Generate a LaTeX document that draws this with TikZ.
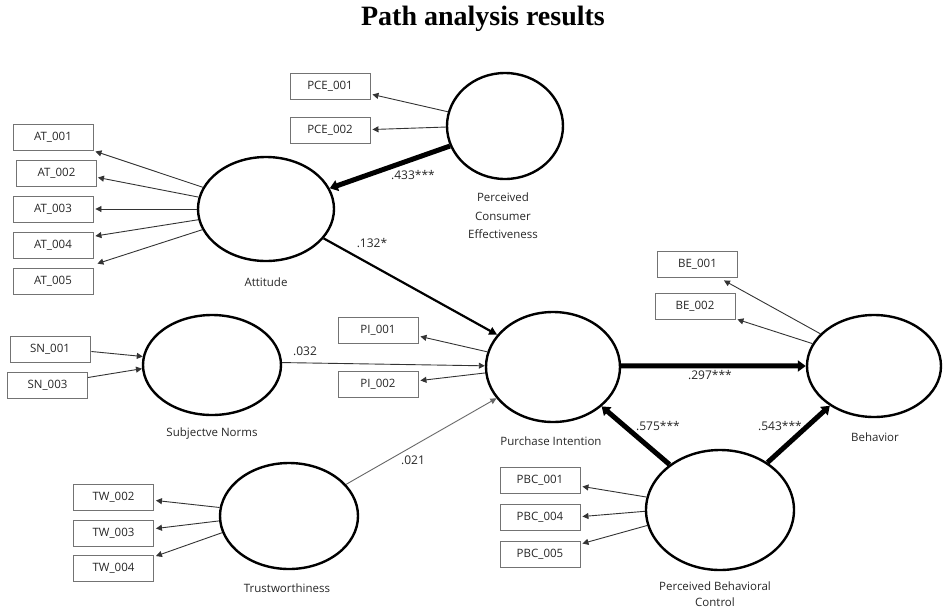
\documentclass[tikz,border=0pt]{standalone}
\usepackage{fontspec}
\setmainfont{Open Sans}
\newfontfamily\titlefont{Liberation Serif}
\usetikzlibrary{arrows.meta,shapes.geometric,calc}
\begin{document}
\begin{tikzpicture}[x=1pt,y=-1pt,
 lat/.style={ellipse, draw, line width=2.4pt, inner sep=0pt},
 ind/.style={draw=black!55, line width=0.9pt, minimum width=80pt, minimum height=26pt, inner sep=0pt, font=\fontsize{11.5}{13}\selectfont, text=black!85},
 lab/.style={font=\fontsize{11.5}{18.5}\selectfont, text=black!85, align=center},
 indarr/.style={-{Triangle[length=6pt,width=6pt]}, line width=0.9pt, draw=black!80},
 strongarr/.style={-{Triangle[length=8pt,width=11pt]}, line width=5pt},
 medarr/.style={-{Triangle[length=8pt,width=8pt]}, line width=2.2pt},
 coef/.style={font=\fontsize{12}{13}\selectfont, text=black!85}
]
\useasboundingbox (0,0) rectangle (943,611);
\node[font=\titlefont\bfseries\fontsize{28}{32}\selectfont] (title) at (483,19) {Path analysis results};

% latent variables
\node[lat, minimum width=116pt, minimum height=106pt] (pce) at (505,126) {};
\node[lat, minimum width=136pt, minimum height=104pt] (at) at (266,209) {};
\node[lat, minimum width=138pt, minimum height=100pt] (sn) at (212,365) {};
\node[lat, minimum width=134pt, minimum height=110pt] (pi) at (553,367) {};
\node[lat, minimum width=138pt, minimum height=106pt] (tw) at (289,516) {};
\node[lat, minimum width=134pt, minimum height=102pt] (be) at (874,366) {};
\node[lat, minimum width=148pt, minimum height=120pt] (pbc) at (720,510) {};

% latent labels
\node[lab] (pcel) at (503,216) {Perceived\\Consumer\\Effectiveness};
\node[lab] (atl) at (266,282) {Attitude};
\node[lab] (snl) at (212,434) {Subjectve Norms};
\node[lab] (pil) at (551,441) {Purchase Intention};
\node[lab] (twl) at (287,588) {Trustworthiness};
\node[lab] (bel) at (875,437) {Behavior};
\node[lab, font=\fontsize{11.5}{16.5}\selectfont] (pbcl) at (715,594) {Perceived Behavioral\\Control};

% indicators
\node[ind] (pce1) at (330,86.5) {PCE\_001};
\node[ind] (pce2) at (330,130.5) {PCE\_002};
\node[ind] (at1) at (53,137) {AT\_001};
\node[ind] (at2) at (56.5,173.5) {AT\_002};
\node[ind] (at3) at (53,209) {AT\_003};
\node[ind] (at4) at (53,245) {AT\_004};
\node[ind] (at5) at (53,281) {AT\_005};
\node[ind] (sn1) at (50,349.5) {SN\_001};
\node[ind] (sn3) at (47.5,385.5) {SN\_003};
\node[ind] (pi1) at (378,330.5) {PI\_001};
\node[ind] (pi2) at (378,384.5) {PI\_002};
\node[ind] (tw2) at (113.5,497.5) {TW\_002};
\node[ind] (tw3) at (113.5,533.5) {TW\_003};
\node[ind] (tw4) at (113.5,568.5) {TW\_004};
\node[ind] (be1) at (697.5,264) {BE\_001};
\node[ind] (be2) at (695,306) {BE\_002};
\node[ind] (pbc1) at (540,480.5) {PBC\_001};
\node[ind] (pbc4) at (540,517.5) {PBC\_004};
\node[ind] (pbc5) at (540,554.5) {PBC\_005};

% indicator arrows
\draw[indarr] (pce.166) -- ($(pce1.east)+(2,8)$);
\draw[indarr] (pce.181) -- ($(pce2.east)+(2,-1)$);
\draw[indarr] (at.161) -- ($(at1.south east)+(2,1)$);
\draw[indarr] (at.170) -- ($(at2.east)+(1,4)$);
\draw[indarr] (at.180) -- ($(at3.east)+(2,0)$);
\draw[indarr] (at.189) -- ($(at4.east)+(2,-9)$);
\draw[indarr] (at.198) -- ($(at5.north east)+(4,-4)$);
\draw[indarr] ($(sn1.east)+(1,2)$) -- (sn.173);
\draw[indarr] ($(sn3.east)+(0,-8)$) -- (sn.183);
\draw[indarr] (pi.167) -- ($(pi1.east)+(2,6)$);
\draw[indarr] (pi.185) -- ($(pi2.east)+(2,-4)$);
\draw[indarr] (tw.173) -- ($(tw2.east)+(2,3)$);
\draw[indarr] (tw.184) -- ($(tw3.east)+(2,-5)$);
\draw[indarr] (tw.194) -- ($(tw4.north east)+(2,1)$);
\draw[indarr] (be.149) -- ($(be1.south east)+(-14,3)$);
\draw[indarr] (be.160) -- ($(be2.south east)+(2,0)$);
\draw[indarr] (pbc.170) -- ($(pbc1.east)+(2,6)$);
\draw[indarr] (pbc.181) -- ($(pbc4.east)+(2,-1)$);
\draw[indarr] (pbc.192) -- ($(pbc5.east)+(2,-11)$);

% structural paths
\draw[strongarr] (pce.200) -- (at.18);
\draw[medarr] (at.-27) -- (pi.150);
\draw[indarr] (sn.2) -- (pi.179);
\draw[indarr, draw=black!60] (tw.29) -- (pi.209);
\draw[strongarr] (pi.1) -- (be.180);
\draw[strongarr] (pbc.138) -- (pi.-39);
\draw[strongarr] (pbc.45.6) -- (be.222);

% coefficients
\node[coef] (c1) at (413,175) {.433***};
\node[coef] (c2) at (372,243) {.132*};
\node[coef] (c3) at (305,351) {.032};
\node[coef] (c4) at (413,460) {.021};
\node[coef] (c5) at (710,375) {.297***};
\node[coef] (c6) at (658,426) {.575***};
\node[coef] (c7) at (780,426) {.543***};
\end{tikzpicture}
\end{document}
